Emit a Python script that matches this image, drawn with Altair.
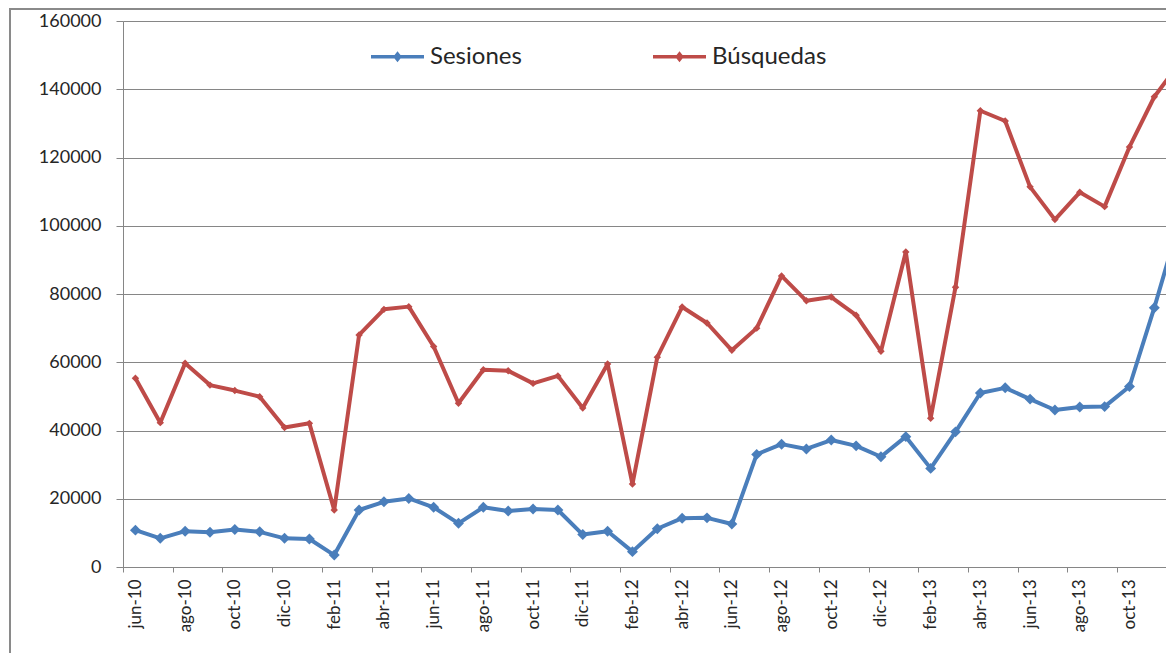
import altair as alt
import pandas as pd

meses = ['jun-10', 'jul-10', 'ago-10', 'sep-10', 'oct-10', 'nov-10', 'dic-10', 'ene-11',
         'feb-11', 'mar-11', 'abr-11', 'may-11', 'jun-11', 'jul-11', 'ago-11', 'sep-11',
         'oct-11', 'nov-11', 'dic-11', 'ene-12', 'feb-12', 'mar-12', 'abr-12', 'may-12',
         'jun-12', 'jul-12', 'ago-12', 'sep-12', 'oct-12', 'nov-12', 'dic-12', 'ene-13',
         'feb-13', 'mar-13', 'abr-13', 'may-13', 'jun-13', 'jul-13', 'ago-13', 'sep-13',
         'oct-13', 'nov-13', 'dic-13']

sesiones = [10800, 8400, 10500, 10200, 11000, 10300, 8400, 8200, 3500, 16700, 19100,
            20100, 17500, 12800, 17500, 16400, 17000, 16700, 9500, 10500, 4500, 11200,
            14300, 14400, 12600, 33000, 36000, 34600, 37200, 35500, 32300, 38200, 28900,
            39600, 51000, 52500, 49200, 46000, 46900, 47000, 52900, 76000, 101000]

busquedas = [55300, 42300, 59700, 53300, 51700, 49900, 40900, 42100, 16700, 68000, 75500,
             76300, 64600, 48000, 57800, 57500, 53800, 56000, 46600, 59500, 24300, 61500,
             76200, 71500, 63500, 70000, 85300, 78000, 79100, 73800, 63200, 92300, 43600,
             82000, 133700, 130700, 111400, 101800, 109800, 105600, 123100, 137800, 147500]

series = ['Sesiones', 'Búsquedas']
colores = ['#4A7EBB', '#BE4B48']
marker_sizes = [120, 55]
y_ticks = [0, 20000, 40000, 60000, 80000, 100000, 120000, 140000, 160000]

rows = []
for i, m in enumerate(meses):
    rows.append({'idx': i, 'mes': m, 'serie': 'Sesiones', 'valor': sesiones[i]})
for i, m in enumerate(meses):
    rows.append({'idx': i, 'mes': m, 'serie': 'Búsquedas', 'valor': busquedas[i]})
df = pd.DataFrame(rows)

FONT = 'Lato'
GRAY = '#868686'
TXT = '#262626'

edges = [i - 0.5 for i in range(0, len(meses), 2)]
label_js = "[" + ",".join("'" + m + "'" for m in meses) + "]"
label_expr = label_js + "[round(datum.value + 0.5)]"

x = alt.X('idx:Q',
          scale=alt.Scale(domain=[-0.5, 41.47], nice=False, zero=False),
          axis=alt.Axis(values=edges, labelExpr=label_expr, labelOffset=12.4,
                        labelAngle=270, labelAlign='right', labelBaseline='middle',
                        tickSize=5, labelPadding=7, grid=False, title='',
                        domainColor=GRAY, tickColor=GRAY, labelFontSize=17,
                        labelColor=TXT, labelFont=FONT, labelFlush=False,
                        labelOverlap=False))

y = alt.Y('valor:Q',
          scale=alt.Scale(domain=[0, 160000], nice=False),
          axis=alt.Axis(values=y_ticks, format='d', grid=True, gridColor=GRAY,
                        gridWidth=1, tickSize=7, tickColor=GRAY, domainColor=GRAY,
                        labelPadding=15, labelFontSize=18, labelColor=TXT,
                        labelFont=FONT, title=''))

color_scale = alt.Scale(domain=series, range=colores)

lines = alt.Chart(df).mark_line(strokeWidth=4, clip=True, strokeJoin='round',
                                strokeCap='round').encode(
    x=x, y=y,
    color=alt.Color('serie:N', scale=color_scale, sort=series,
                    legend=alt.Legend(orient='none', legendX=246, legendY=7,
                                      direction='horizontal', title=None,
                                      symbolType='M-1,0L1,0M-0.08,0L0,-0.1L0.08,0L0,0.1Z',
                                      symbolSize=2809, symbolStrokeWidth=3.5,
                                      labelFontSize=24, labelFont=FONT,
                                      labelColor=TXT, columnPadding=124,
                                      labelOffset=4, padding=0)),
    detail='serie:N'
)

point_layers = []
for s, sz in zip(series, marker_sizes):
    point_layers.append(
        alt.Chart(df).transform_filter(alt.datum.serie == s).mark_point(
            filled=True, shape='diamond', opacity=1, size=sz, clip=True
        ).encode(
            x=x, y=y,
            color=alt.Color('serie:N', scale=color_scale, legend=None)
        )
    )

frame = alt.Chart(alt.Data(values=[{}])).mark_rect(
    fill='transparent', stroke='#8a8a8a', strokeWidth=2, clip=False
).encode(x=alt.value(-113), y=alt.value(-12), x2=alt.value(1300), y2=alt.value(800))

chart = alt.layer(frame, lines, *point_layers).properties(
    width=1043, height=546,
    autosize=alt.AutoSizeParams(type='none'),
    padding={'left': 115, 'top': 13, 'right': 0, 'bottom': 86},
    background='white'
).configure_view(stroke='transparent').configure(font=FONT)

chart.save("out.html", embed_options={"renderer": "svg", "actions": False})
